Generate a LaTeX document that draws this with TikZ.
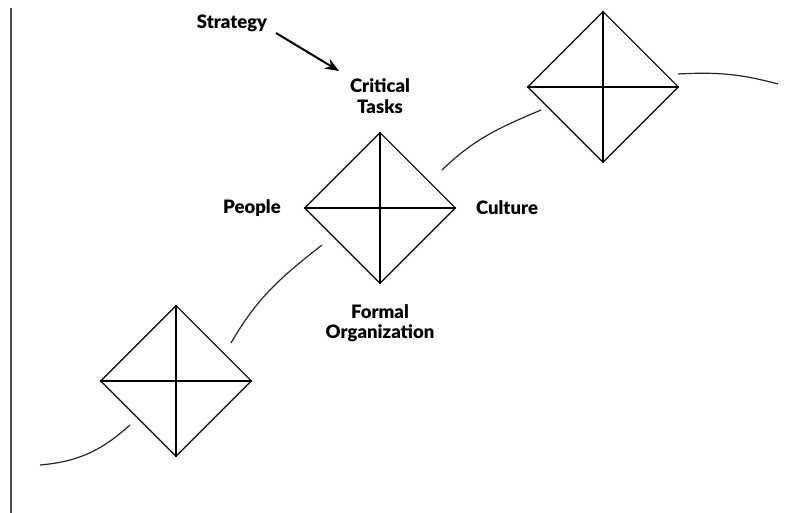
\documentclass[tikz,border=0pt]{standalone}
\usepackage{fontspec}
\setmainfont{Lato}[BoldFont={Lato Black}]
\usetikzlibrary{shapes.geometric,arrows.meta}
\begin{document}
\begin{tikzpicture}[x=1pt,y=1pt,
  kite/.style={draw=black,shape=diamond,inner sep=0pt,minimum width=151pt,minimum height=151pt,line width=1.1pt},
  cross/.style={line width=1.1pt},
  flow/.style={line width=1.2pt,draw=black!85},
  lab/.style={font=\bfseries\fontsize{18.5}{20.5}\selectfont,align=center,inner sep=0pt},
  arr/.style={line width=2pt,-{Stealth[length=14pt,width=11pt]}}]
\useasboundingbox (0,0) rectangle (801,513);
\draw[line width=2pt,draw=black!70] (11,0) -- (11,505);
% diamonds
\node[kite] (d1) at (176,132) {};
\node[kite] (d2) at (380,305) {};
\node[kite] (d3) at (603,426) {};
\foreach \d in {d1,d2,d3}{
  \draw[cross] (\d.north) -- (\d.south);
  \draw[cross] (\d.west) -- (\d.east);
}
% curves
\coordinate (a0) at (40,48);
\coordinate (a1) at (130,88);
\coordinate (b0) at (231,170);
\coordinate (b1) at (322,268);
\coordinate (c0) at (442,343);
\coordinate (c1) at (541,403);
\coordinate (e0) at (678,439);
\coordinate (e1) at (778,429);
\draw[flow] (a0) to[out=5,in=222] (a1);
\draw[flow] (b0) to[out=60,in=218] (b1);
\draw[flow] (c0) to[out=44,in=203] (c1);
\draw[flow] (e0) to[out=3,in=165] (e1);
% labels
\node[lab] (strat) at (232,490) {Strategy};
\node[lab] (tasks) at (380,417) {Critical\\Tasks};
\node[lab] (people) at (252,305) {People};
\node[lab] (cult) at (507,305) {Culture};
\node[lab] (form) at (380,190) {Formal\\Organization};
\coordinate (tip) at (339,442);
\draw[arr] (276,480) -- (tip);
\end{tikzpicture}
\end{document}
